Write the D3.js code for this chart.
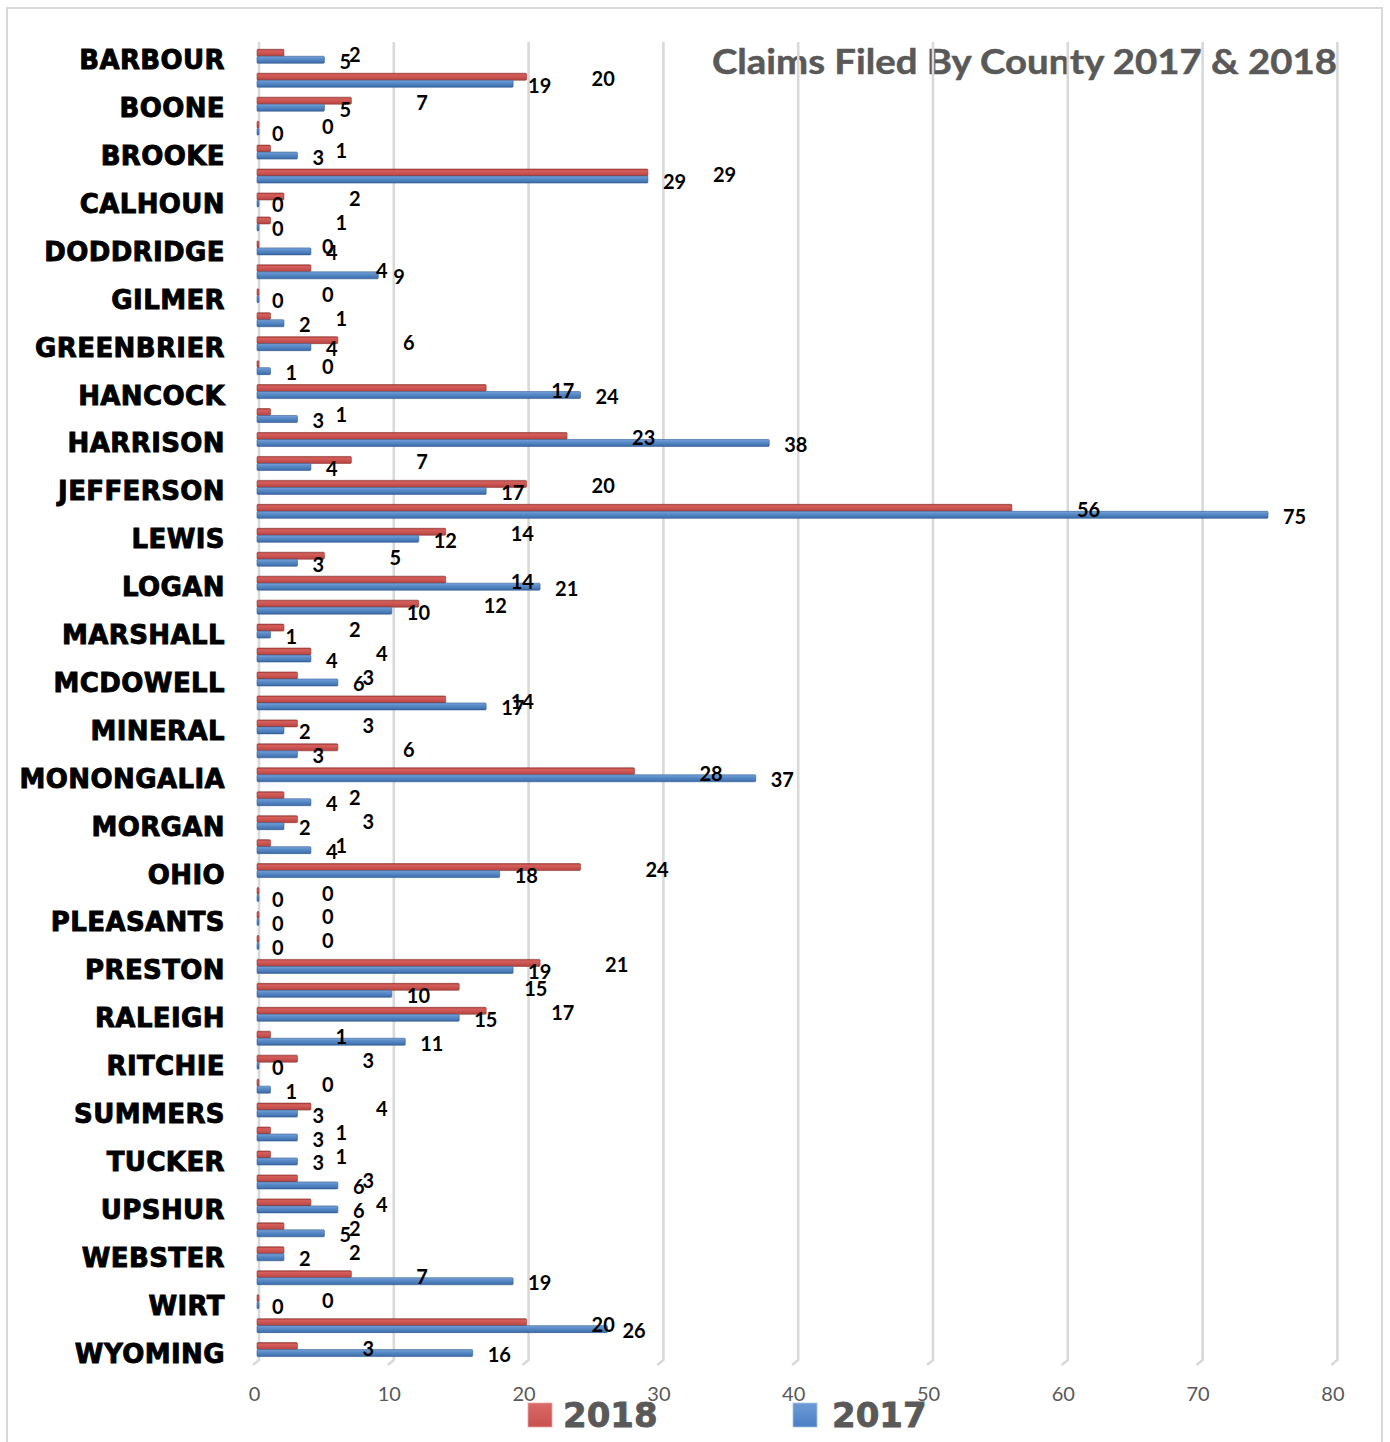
<!DOCTYPE html>
<html>
<head>
<meta charset="utf-8">
<script src="https://cdn.jsdelivr.net/npm/d3@7"></script>
<style>
  html, body { margin: 0; padding: 0; background: #fff; }
  svg { display: block; }
</style>
</head>
<body>
<svg id="chart" width="1390" height="1442"></svg>
<script>
// ---------- DATA ----------
const counties = ["Barbour","Berkeley","Boone","Braxton","Brooke","Cabell","Calhoun","Clay","Doddridge","Fayette",
  "Gilmer","Grant","Greenbrier","Hampshire","Hancock","Hardy","Harrison","Jackson","Jefferson","Kanawha",
  "Lewis","Lincoln","Logan","Marion","Marshall","Mason","McDowell","Mercer","Mineral","Mingo",
  "Monongalia","Monroe","Morgan","Nicholas","Ohio","Pendleton","Pleasants","Pocahontas","Preston","Putnam",
  "Raleigh","Randolph","Ritchie","Roane","Summers","Taylor","Tucker","Tyler","Upshur","Wayne",
  "Webster","Wetzel","Wirt","Wood","Wyoming"];
const claims2018 = [2,20,7,0,1,29,2,1,0,4,
  0,1,6,0,17,1,23,7,20,56,
  14,5,14,12,2,4,3,14,3,6,
  28,2,3,1,24,0,0,0,21,15,
  17,1,3,0,4,1,1,3,4,2,
  2,7,0,20,3];
const claims2017 = [5,19,5,0,3,29,0,0,4,9,
  0,2,4,1,24,3,38,4,17,75,
  12,3,21,10,1,4,6,17,2,3,
  37,4,2,4,18,0,0,0,19,10,
  15,11,0,1,3,3,3,6,6,5,
  2,19,0,26,16];
const xTicks = [0,10,20,30,40,50,60,70,80];
const seriesNames = ["2018","2017"];
const titleText = "Claims Filed By County 2017 & 2018";

// ---------- SETUP ----------
const svg = d3.select("#chart");
const W = 1390, H = 1442;

// outer border
svg.append("rect").attr("x", 7).attr("y", 8).attr("width", 1375).attr("height", H)
  .attr("fill", "#fff").attr("stroke", "#d9d9d9").attr("stroke-width", 2);

const x = d3.scaleLinear().domain([0, 80]).range([257, 257 + 80 * 13.48]);
const y = d3.scaleBand().domain(counties).range([44.3, 44.3 + 55 * 23.95]).padding(0);
const bw = y.bandwidth();
const cy = name => y(name) + bw / 2;

// gradients
const defs = svg.append("defs");
function grad(id, stops) {
  const g = defs.append("linearGradient").attr("id", id).attr("x1", 0).attr("y1", 0).attr("x2", 0).attr("y2", 1);
  stops.forEach(s => g.append("stop").attr("offset", s[0]).attr("stop-color", s[1]));
}
grad("gRed", [[0, "#a8403d"], [0.25, "#d65f5b"], [0.6, "#c9524f"], [1, "#b04441"]]);
grad("gBlue", [[0, "#7aa3d8"], [0.35, "#5a8cc9"], [0.7, "#4a7cba"], [1, "#3a66a0"]]);

// title (under gridlines)
svg.append("text")
  .attr("x", 712).attr("y", 74)
  .attr("textLength", 625).attr("lengthAdjust", "spacingAndGlyphs")
  .style("font-family", "Lato, 'Open Sans', sans-serif")
  .style("font-weight", "700").style("font-size", "35px")
  .attr("fill", "#595959").attr("stroke", "#595959").attr("stroke-width", 0.5)
  .text(titleText);

// gridlines
const gridTop = 42, gridBot = 1360;
const grid = svg.append("g");
xTicks.forEach(v => {
  const gx = x(v) + 2;
  grid.append("path")
    .attr("d", `M${gx},${gridTop} L${gx},${gridBot} L${gx - 6},${gridBot + 5}`)
    .attr("fill", "none").attr("stroke", "#d9d9d9").attr("stroke-width", 2.6);
});

// bars
const barH = 7;
const rows = counties.map((c, i) => ({ name: c, v18: claims2018[i], v17: claims2017[i] }));
const gb = svg.append("g");
gb.selectAll("rect.r18").data(rows).join("rect").attr("class", "r18")
  .attr("x", x(0)).attr("y", d => cy(d.name) - barH)
  .attr("width", d => Math.max(x(d.v18) - x(0), 2)).attr("height", barH)
  .attr("rx", 1)
  .attr("fill", "url(#gRed)").attr("stroke", "#8e3532").attr("stroke-width", 0.6);
gb.selectAll("rect.r17").data(rows).join("rect").attr("class", "r17")
  .attr("x", x(0)).attr("y", d => cy(d.name))
  .attr("width", d => Math.max(x(d.v17) - x(0), 2)).attr("height", barH)
  .attr("rx", 1)
  .attr("fill", "url(#gBlue)").attr("stroke", "#325c93").attr("stroke-width", 0.6);

// data labels
const lblFont = "Lato, 'Open Sans', sans-serif";
const gl = svg.append("g")
  .style("font-family", lblFont).style("font-weight", "700").style("font-size", "20px").attr("fill", "#000");
gl.selectAll("text.l18").data(rows).join("text").attr("class", "l18")
  .attr("x", d => x(d.v18) + 65).attr("y", d => cy(d.name) + 6)
  .text(d => d.v18);
gl.selectAll("text.l17").data(rows).join("text").attr("class", "l17")
  .attr("x", d => x(d.v17) + 15).attr("y", d => cy(d.name) + 12.5)
  .text(d => d.v17);

// y axis (every other category)
const yAxis = d3.axisLeft(y)
  .tickValues(counties.filter((c, i) => i % 2 === 0))
  .tickSize(0).tickPadding(0)
  .tickFormat(d => d.toUpperCase());
const gy = svg.append("g").attr("transform", "translate(225,0)").call(yAxis);
gy.select(".domain").remove();
gy.selectAll("text")
  .attr("x", 0).attr("dy", null).attr("y", 13)
  .attr("text-anchor", "end")
  .style("font-family", "'DejaVu Sans', sans-serif")
  .style("font-weight", "700").style("font-size", "26px")
  .style("letter-spacing", "0.4px")
  .attr("fill", "#000").attr("stroke", "#000").attr("stroke-width", 0.9);

// x axis
const xAxis = d3.axisBottom(x).tickValues(xTicks).tickSize(0).tickPadding(0).tickFormat(d3.format("d"));
const gx = svg.append("g").attr("transform", "translate(-3,0)").call(xAxis);
gx.select(".domain").remove();
gx.selectAll("text")
  .attr("y", 1401).attr("dy", null)
  .style("font-family", "Lato, 'Open Sans', sans-serif")
  .style("font-size", "20px")
  .attr("fill", "#595959");

// legend
const legendItems = [
  { name: seriesNames[0], fill: "#c9504d", top: "#d96b68", edge: "#e8a8a6", sx: 528, tx: 563 },
  { name: seriesNames[1], fill: "#4a7fc4", top: "#6d9bd6", edge: "#a9c4e8", sx: 793, tx: 832 }
];
legendItems.forEach((d, i) => {
  const lg = defs.append("linearGradient").attr("id", "lg" + i).attr("x1", 0).attr("y1", 0).attr("x2", 0).attr("y2", 1);
  lg.append("stop").attr("offset", 0).attr("stop-color", d.top);
  lg.append("stop").attr("offset", 1).attr("stop-color", d.fill);
  svg.append("rect").attr("x", d.sx).attr("y", 1403).attr("width", 24).attr("height", 24)
    .attr("fill", `url(#lg${i})`).attr("stroke", d.edge).attr("stroke-width", 0.8);
  svg.append("text").attr("x", d.tx).attr("y", 1427)
    .style("font-family", "'DejaVu Sans', sans-serif").style("font-weight", "700").style("font-size", "34px")
    .attr("fill", "#595959").attr("stroke", "#595959").attr("stroke-width", 0.8)
    .text(d.name);
});
</script>
</body>
</html>
